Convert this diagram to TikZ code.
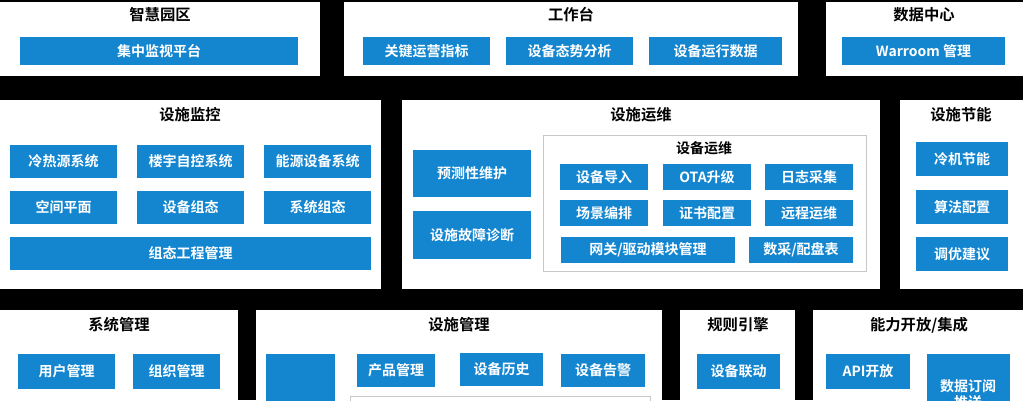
\documentclass[tikz,border=0pt]{standalone}
\usepackage{fontspec}
\setmainfont{Noto Sans CJK SC}[BoldFont={Noto Sans CJK SC Bold}]
\definecolor{boxblue}{RGB}{20,134,208}
\definecolor{innergray}{RGB}{200,200,200}
\tikzset{
  panel/.style={draw=none,fill=white},
  blu/.style={fill=boxblue,draw=none},
  btxt/.style={text=white,font=\bfseries\fontsize{10.5}{12}\selectfont,align=center},
  ttl/.style={font=\bfseries\fontsize{11.5}{13}\selectfont}
}
% box from (x1,y1) to (x2,y2) with a label
\newcommand{\bbox}[5]{%
  \fill[blu] (#1,#2) rectangle (#3,#4);
  \node[btxt] (#5) at ($(#1,#2)!0.5!(#3,#4)$) {#5};}
\usetikzlibrary{calc}
\begin{document}
\begin{tikzpicture}[x=0.75pt,y=-0.75pt]
  \useasboundingbox (0,0) rectangle (1023,400);
  \clip (0,0) rectangle (1023,400);
  \fill[black] (0,0) rectangle (1023,400);

  % row 1
  \fill[panel] (0,2) rectangle (320,76);
  \fill[panel] (344,2) rectangle (798,76);
  \fill[panel] (826,2) rectangle (1023,76);
  \node[ttl] (t1) at (160,15) {智慧园区};
  \node[ttl] (t2) at (571,15) {工作台};
  \node[ttl] (t3) at (924,15) {数据中心};
  \bbox{20}{37}{298}{65}{集中监视平台}
  \bbox{363}{37}{490}{65}{关键运营指标}
  \bbox{506}{37}{633}{65}{设备态势分析}
  \bbox{649}{37}{782}{65}{设备运行数据}
  \bbox{842}{37}{1005}{65}{Warroom 管理}

  % row 2
  \fill[panel] (0,100) rectangle (381,289);
  \fill[panel] (402,100) rectangle (880,289);
  \fill[panel] (900,100) rectangle (1023,289);
  \node[ttl] (t4) at (190,115) {设施监控};
  \node[ttl] (t5) at (641,115) {设施运维};
  \node[ttl] (t6) at (961,115) {设施节能};
  \bbox{10}{145}{117}{178}{冷热源系统}
  \bbox{137}{145}{244}{178}{楼宇自控系统}
  \bbox{264}{145}{371}{178}{能源设备系统}
  \bbox{10}{191}{117}{224}{空间平面}
  \bbox{137}{191}{244}{224}{设备组态}
  \bbox{264}{191}{371}{224}{系统组态}
  \bbox{10}{237}{371}{270}{组态工程管理}
  \bbox{413}{150}{531}{197}{预测性维护}
  \bbox{413}{211}{531}{259}{设施故障诊断}
  \draw[innergray] (543,135) rectangle (866,271);
  \node[ttl,font=\bfseries\fontsize{10.5}{12}\selectfont] (t7) at (704,148) {设备运维};
  \bbox{560}{164}{648}{190}{设备导入}
  \bbox{663}{164}{751}{190}{OTA升级}
  \bbox{765}{164}{853}{190}{日志采集}
  \bbox{560}{200}{648}{226}{场景编排}
  \bbox{663}{200}{751}{226}{证书配置}
  \bbox{765}{200}{853}{226}{远程运维}
  \bbox{561}{237}{735}{263}{网关/驱动模块管理}
  \bbox{749}{237}{853}{263}{数采/配盘表}
  \bbox{916}{142}{1008}{176}{冷机节能}
  \bbox{916}{190}{1008}{224}{算法配置}
  \bbox{916}{237}{1008}{271}{调优建议}

  % row 3
  \fill[panel] (0,310) rectangle (238,402);
  \fill[panel] (256,310) rectangle (662,402);
  \fill[panel] (680,310) rectangle (795,402);
  \fill[panel] (813,310) rectangle (1023,402);
  \node[ttl] (t8) at (119,325) {系统管理};
  \node[ttl] (t9) at (459,325) {设施管理};
  \node[ttl] (t10) at (738,325) {规则引擎};
  \node[ttl] (t11) at (919,325) {能力开放/集成};
  \bbox{18}{354}{115}{389}{用户管理}
  \bbox{133}{354}{220}{389}{组织管理}
  \fill[blu] (266,354) rectangle (335,405);
  \bbox{357}{354}{435}{387}{产品管理}
  \bbox{460}{353}{543}{386}{设备历史}
  \bbox{561}{354}{645}{387}{设备告警}
  \draw[innergray] (350,396) rectangle (650,410);
  \bbox{697}{354}{780}{389}{设备联动}
  \bbox{826}{354}{910}{389}{API开放}
  \fill[blu] (927,354) rectangle (1010,405);
  \node[btxt] (dy) at (968,394) {数据订阅\\推送};
\end{tikzpicture}
\end{document}
